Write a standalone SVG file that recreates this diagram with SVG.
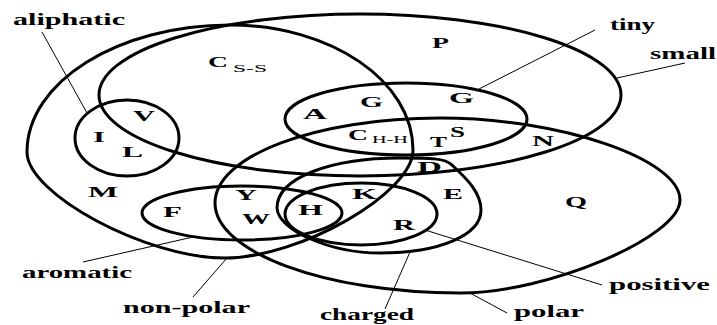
<svg xmlns="http://www.w3.org/2000/svg" width="717" height="325" viewBox="0 0 717 325">
<style>
.set{fill:none;stroke:#000;stroke-width:3}
.ptr{stroke:#000;stroke-width:1;fill:none}
.lbl{font-family:"Liberation Serif","Times New Roman",serif;font-weight:bold;font-size:17px;fill:#000}
.aa{font-family:"Liberation Serif","Times New Roman",serif;font-weight:bold;font-size:15px;fill:#000}
.sub{font-family:"Liberation Serif","Times New Roman",serif;font-size:10px;fill:#000}
</style>
<rect width="717" height="325" fill="#fff"/>
<g id="non-polar">
<path class="set" d="M27,152 C27,82 118,25 230,25 C331,25 413,81 413,150 C413,193 300,258 225,258 C146,258 27,194 27,152 Z"/>
<text class="lbl" x="123" y="313" textLength="127" lengthAdjust="spacingAndGlyphs">non-polar</text>
</g>
<g id="small">
<ellipse class="set" cx="360" cy="95" rx="261" ry="81"/>
<text class="lbl" x="650" y="59" textLength="66" lengthAdjust="spacingAndGlyphs">small</text>
</g>
<g id="polar">
<path class="set" d="M215,203 C215,156 316,118 440,118 C560,118 680,159 680,200 C680,237 548,293 460,293 C325,293 215,252 215,203 Z"/>
<text class="lbl" x="514" y="317" textLength="70" lengthAdjust="spacingAndGlyphs">polar</text>
</g>
<g id="tiny">
<ellipse class="set" cx="406" cy="119" rx="121" ry="36"/>
<text class="lbl" x="610" y="30" textLength="45" lengthAdjust="spacingAndGlyphs">tiny</text>
</g>
<g id="aliphatic">
<ellipse class="set" cx="127" cy="138" rx="52" ry="38"/>
<text class="lbl" x="13" y="25" textLength="112" lengthAdjust="spacingAndGlyphs">aliphatic</text>
</g>
<g id="aromatic">
<ellipse class="set" cx="242" cy="213" rx="100" ry="27"/>
<text class="lbl" x="22" y="278" textLength="110" lengthAdjust="spacingAndGlyphs">aromatic</text>
</g>
<g id="charged">
<path class="set" d="M277,208 C277,178 330,158 400,158 C430,158 445,158 452,165 C462,175 481,190 481,210 C481,235 440,253 380,253 C330,253 278,230 277,208 Z"/>
<text class="lbl" x="320" y="320" textLength="94" lengthAdjust="spacingAndGlyphs">charged</text>
</g>
<g id="positive">
<ellipse class="set" cx="361" cy="214" rx="76" ry="31"/>
<text class="lbl" x="609" y="290" textLength="101" lengthAdjust="spacingAndGlyphs">positive</text>
</g>
<g id="connectors">
<line class="ptr" x1="42" y1="32" x2="87" y2="113"/>
<line class="ptr" x1="595" y1="30" x2="479" y2="89"/>
<line class="ptr" x1="685" y1="63" x2="617" y2="78"/>
<line class="ptr" x1="83" y1="262" x2="193" y2="237"/>
<line class="ptr" x1="193" y1="297" x2="227" y2="258"/>
<line class="ptr" x1="410" y1="252" x2="385" y2="309"/>
<line class="ptr" x1="425" y1="230" x2="602" y2="285"/>
<line class="ptr" x1="470" y1="293" x2="507" y2="313"/>
</g>
<g id="members">
<text class="aa" x="208" y="67" textLength="20" lengthAdjust="spacingAndGlyphs">C</text>
<text class="sub" x="233" y="72" textLength="34" lengthAdjust="spacingAndGlyphs">S-S</text>
<text class="aa" x="432" y="48" textLength="17" lengthAdjust="spacingAndGlyphs">P</text>
<text class="aa" x="133" y="121" textLength="22" lengthAdjust="spacingAndGlyphs">V</text>
<text class="aa" x="93" y="142" textLength="12" lengthAdjust="spacingAndGlyphs">I</text>
<text class="aa" x="122" y="157" textLength="21" lengthAdjust="spacingAndGlyphs">L</text>
<text class="aa" x="303" y="119" textLength="24" lengthAdjust="spacingAndGlyphs">A</text>
<text class="aa" x="360" y="107" textLength="23" lengthAdjust="spacingAndGlyphs">G</text>
<text class="aa" x="449" y="103" textLength="25" lengthAdjust="spacingAndGlyphs">G</text>
<text class="aa" x="348" y="140" textLength="20" lengthAdjust="spacingAndGlyphs">C</text>
<text class="sub" x="372" y="143" textLength="36" lengthAdjust="spacingAndGlyphs">H-H</text>
<text class="aa" x="430" y="147" textLength="17" lengthAdjust="spacingAndGlyphs">T</text>
<text class="aa" x="450" y="137" textLength="15" lengthAdjust="spacingAndGlyphs">S</text>
<text class="aa" x="532" y="146" textLength="22" lengthAdjust="spacingAndGlyphs">N</text>
<text class="aa" x="417" y="172" textLength="25" lengthAdjust="spacingAndGlyphs">D</text>
<text class="aa" x="352" y="199" textLength="25" lengthAdjust="spacingAndGlyphs">K</text>
<text class="aa" x="443" y="199" textLength="20" lengthAdjust="spacingAndGlyphs">E</text>
<text class="aa" x="298" y="215" textLength="25" lengthAdjust="spacingAndGlyphs">H</text>
<text class="aa" x="393" y="230" textLength="22" lengthAdjust="spacingAndGlyphs">R</text>
<text class="aa" x="88" y="197" textLength="30" lengthAdjust="spacingAndGlyphs">M</text>
<text class="aa" x="163" y="217" textLength="19" lengthAdjust="spacingAndGlyphs">F</text>
<text class="aa" x="235" y="200" textLength="22" lengthAdjust="spacingAndGlyphs">Y</text>
<text class="aa" x="242" y="224" textLength="28" lengthAdjust="spacingAndGlyphs">W</text>
<text class="aa" x="565" y="207" textLength="22" lengthAdjust="spacingAndGlyphs">Q</text>
</g>
</svg>
